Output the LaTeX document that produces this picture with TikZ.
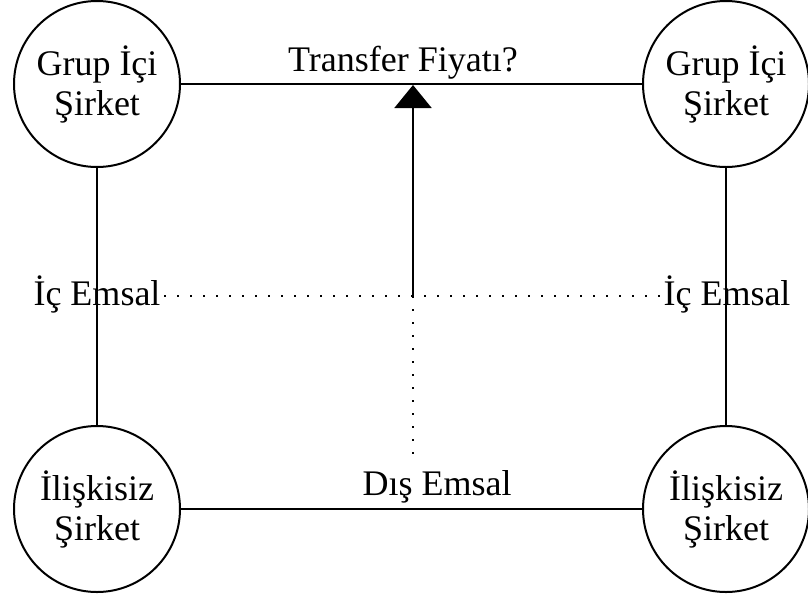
\documentclass[tikz,border=0pt]{standalone}
\usepackage{fontspec}
\setmainfont{Liberation Serif}
\usepackage{tikz}
\usetikzlibrary{arrows.meta,shapes,positioning}
\tikzset{
x=1pt, y=-1pt, % one unit is one pixel of the picture
every node/.style={font=\fontsize{36}{40}\selectfont, align=center},
company/.style={draw, circle, line width=2pt, minimum size=166pt, inner sep=0pt},
link/.style={line width=2pt},
hint/.style={line width=2pt, dash pattern=on 2pt off 11pt}
}
\begin{document}
\begin{tikzpicture}
        \useasboundingbox (0,0) rectangle (808,598);
        % the four companies
        \node [company] (gl) at (97,84) {Grup İçi\\Şirket};
        \node [company] (gr) at (726,84) {Grup İçi\\Şirket};
        \node [company] (il) at (97,509) {İlişkisiz\\Şirket};
        \node [company] (ir) at (726,509) {İlişkisiz\\Şirket};
        % labels
        \node (tf) at (403,63) {Transfer Fiyatı?};
        \node (icl) at (97,294) {İç Emsal};
        \node (icr) at (727,294) {İç Emsal};
        \node (dis) at (437,487) {Dış Emsal};
        \coordinate (mid) at (413,296);
        \coordinate (low) at (413,457);
        \coordinate (top) at (413,85);
        % frame
        \draw [link] (gl) -- (gr);
        \draw [link] (il) -- (ir);
        \draw [link] (gl) -- (il);
        \draw [link] (gr) -- (ir);
        % comparables
        \draw [hint] (icl.east |- mid) -- (icr.west |- mid);
        \draw [hint] (mid) -- (low);
        \draw [link, -{Triangle[width=37pt,length=23pt]}] (mid) -- (top);
\end{tikzpicture}
\end{document}
